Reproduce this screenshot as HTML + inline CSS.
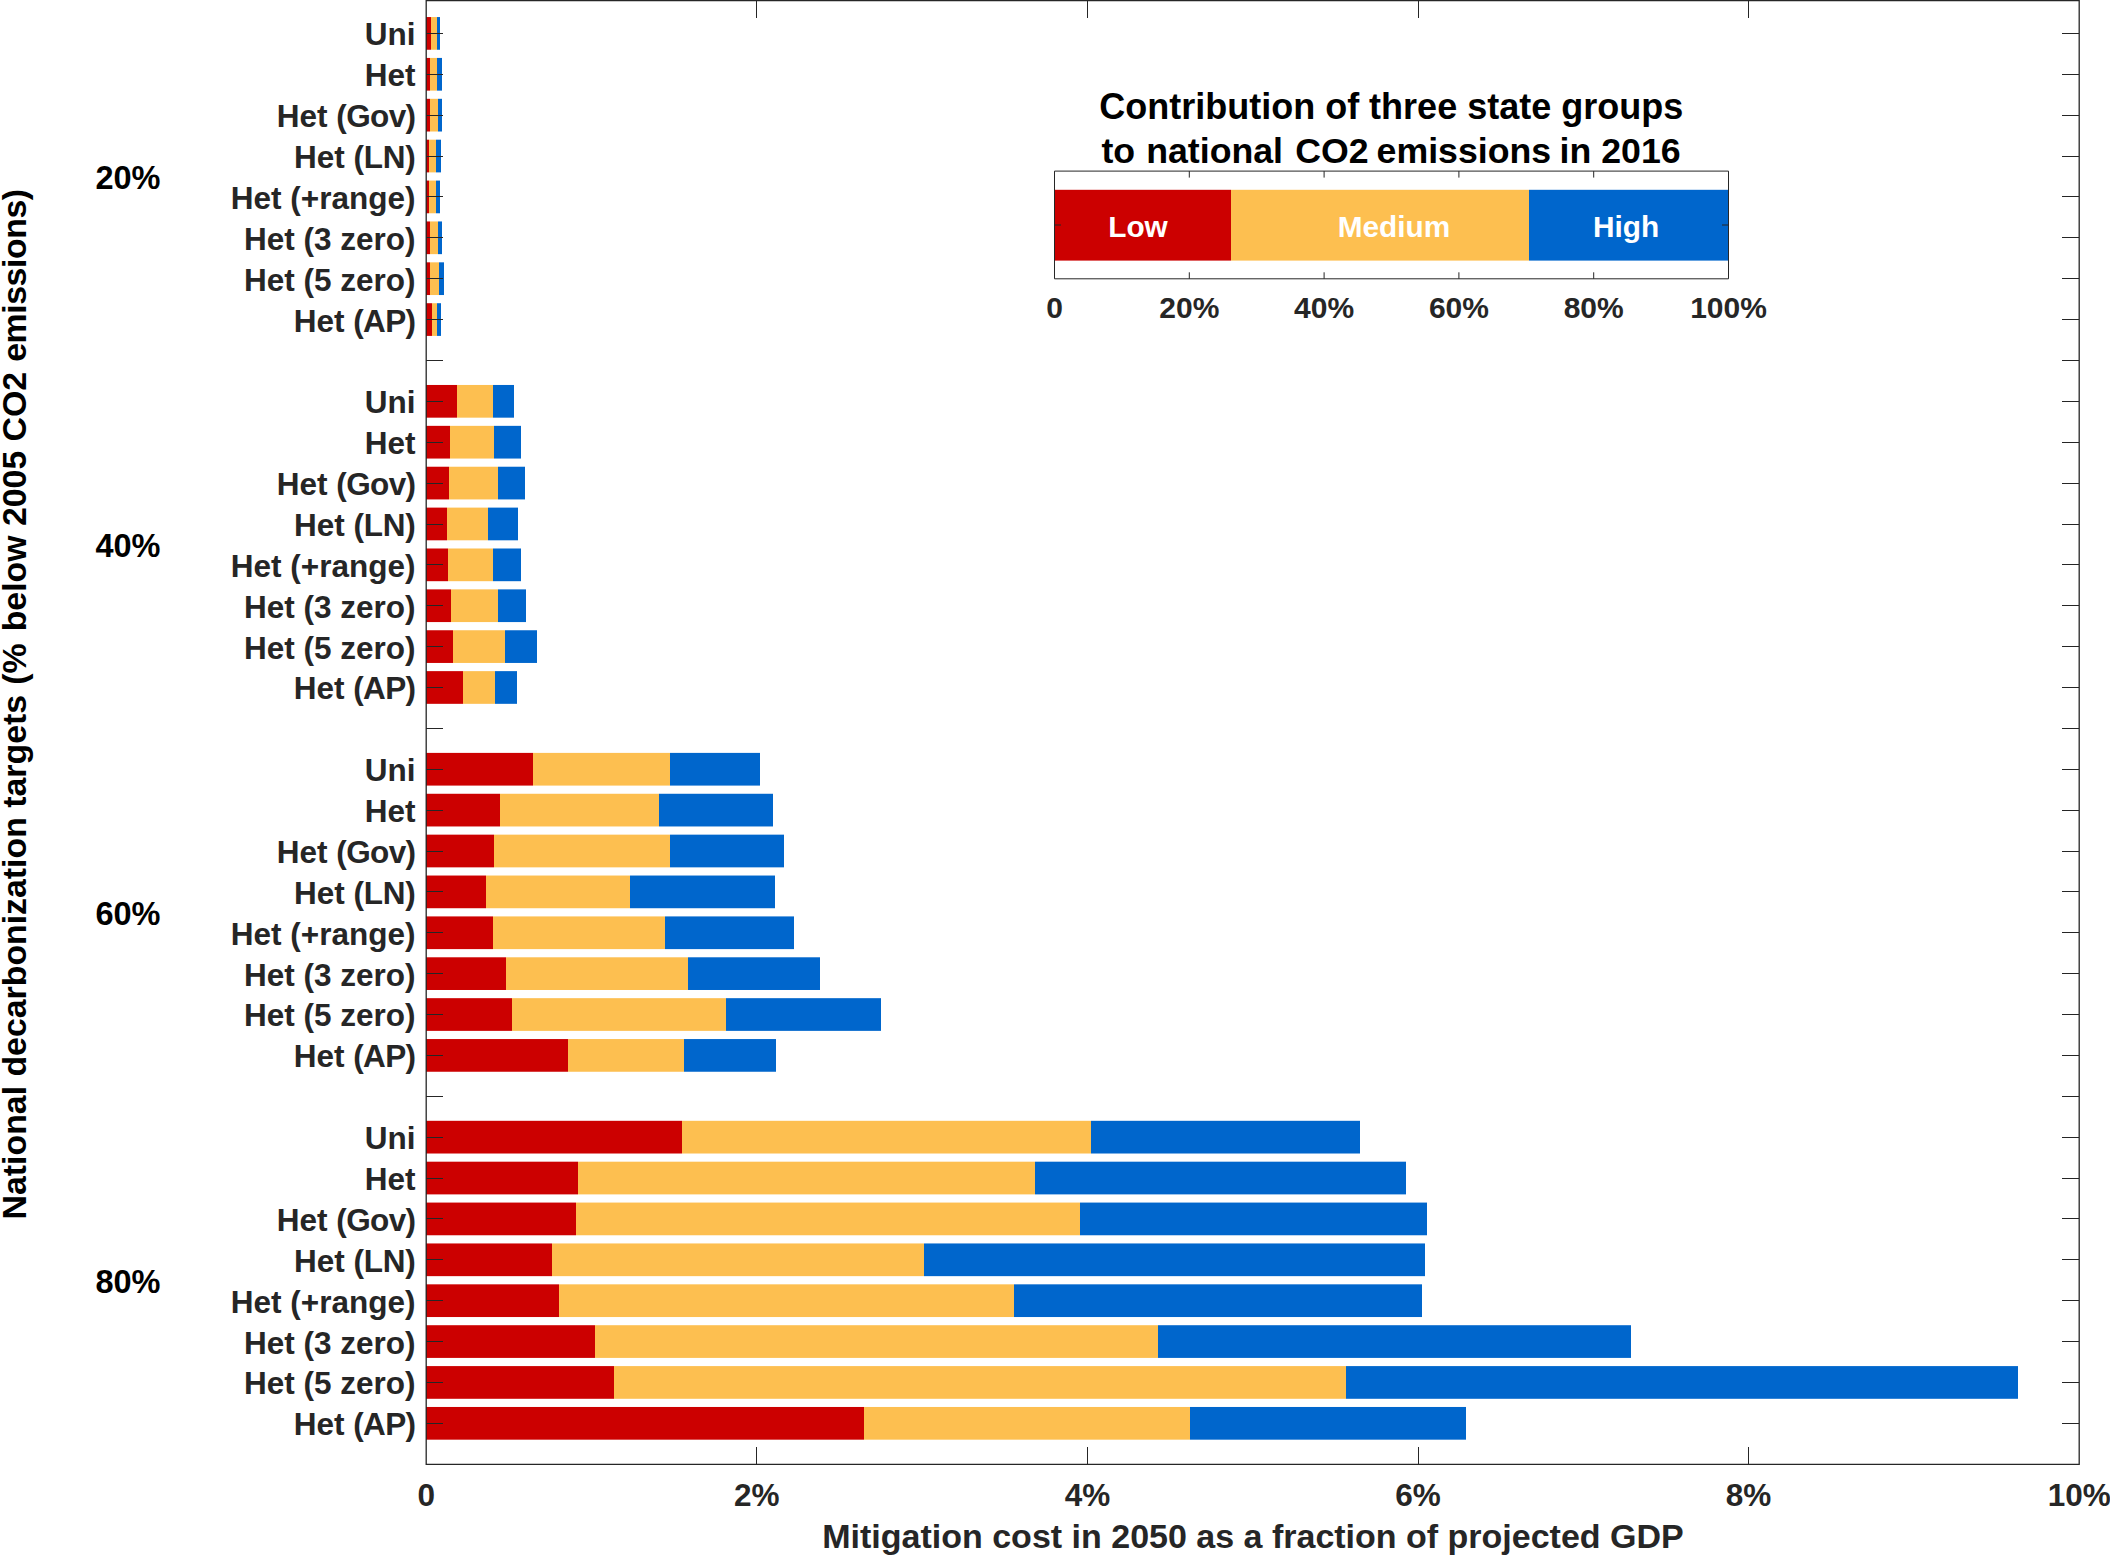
<!DOCTYPE html>
<html lang="en"><head><meta charset="utf-8"><title>Mitigation cost chart</title>
<style>html,body{margin:0;padding:0;background:#fff}svg{display:block}text{font-family:'Liberation Sans', Arial, Helvetica, sans-serif;font-weight:bold}</style></head><body>
<svg width="2110" height="1555" viewBox="0 0 2110 1555">
<rect width="2110" height="1555" fill="#fff"/>
<g>
<rect x="426" y="17.05" width="5" height="32.7" fill="#cc0000"/>
<rect x="431" y="17.05" width="6" height="32.7" fill="#fdbf50"/>
<rect x="437" y="17.05" width="3" height="32.7" fill="#0066cc"/>
<rect x="426" y="57.93" width="4" height="32.7" fill="#cc0000"/>
<rect x="430" y="57.93" width="7" height="32.7" fill="#fdbf50"/>
<rect x="437" y="57.93" width="5" height="32.7" fill="#0066cc"/>
<rect x="426" y="98.81" width="4" height="32.7" fill="#cc0000"/>
<rect x="430" y="98.81" width="8" height="32.7" fill="#fdbf50"/>
<rect x="438" y="98.81" width="4" height="32.7" fill="#0066cc"/>
<rect x="426" y="139.69" width="3" height="32.7" fill="#cc0000"/>
<rect x="429" y="139.69" width="7" height="32.7" fill="#fdbf50"/>
<rect x="436" y="139.69" width="5" height="32.7" fill="#0066cc"/>
<rect x="426" y="180.57" width="3" height="32.7" fill="#cc0000"/>
<rect x="429" y="180.57" width="7" height="32.7" fill="#fdbf50"/>
<rect x="436" y="180.57" width="4" height="32.7" fill="#0066cc"/>
<rect x="426" y="221.45" width="4" height="32.7" fill="#cc0000"/>
<rect x="430" y="221.45" width="8" height="32.7" fill="#fdbf50"/>
<rect x="438" y="221.45" width="4" height="32.7" fill="#0066cc"/>
<rect x="426" y="262.33" width="4" height="32.7" fill="#cc0000"/>
<rect x="430" y="262.33" width="9" height="32.7" fill="#fdbf50"/>
<rect x="439" y="262.33" width="5" height="32.7" fill="#0066cc"/>
<rect x="426" y="303.21" width="6" height="32.7" fill="#cc0000"/>
<rect x="432" y="303.21" width="5" height="32.7" fill="#fdbf50"/>
<rect x="437" y="303.21" width="4" height="32.7" fill="#0066cc"/>
<rect x="426" y="384.97" width="31" height="32.7" fill="#cc0000"/>
<rect x="457" y="384.97" width="36" height="32.7" fill="#fdbf50"/>
<rect x="493" y="384.97" width="21" height="32.7" fill="#0066cc"/>
<rect x="426" y="425.85" width="24" height="32.7" fill="#cc0000"/>
<rect x="450" y="425.85" width="44" height="32.7" fill="#fdbf50"/>
<rect x="494" y="425.85" width="27" height="32.7" fill="#0066cc"/>
<rect x="426" y="466.73" width="23" height="32.7" fill="#cc0000"/>
<rect x="449" y="466.73" width="49" height="32.7" fill="#fdbf50"/>
<rect x="498" y="466.73" width="27" height="32.7" fill="#0066cc"/>
<rect x="426" y="507.61" width="21" height="32.7" fill="#cc0000"/>
<rect x="447" y="507.61" width="41" height="32.7" fill="#fdbf50"/>
<rect x="488" y="507.61" width="30" height="32.7" fill="#0066cc"/>
<rect x="426" y="548.49" width="22" height="32.7" fill="#cc0000"/>
<rect x="448" y="548.49" width="45" height="32.7" fill="#fdbf50"/>
<rect x="493" y="548.49" width="28" height="32.7" fill="#0066cc"/>
<rect x="426" y="589.37" width="25" height="32.7" fill="#cc0000"/>
<rect x="451" y="589.37" width="47" height="32.7" fill="#fdbf50"/>
<rect x="498" y="589.37" width="28" height="32.7" fill="#0066cc"/>
<rect x="426" y="630.25" width="27" height="32.7" fill="#cc0000"/>
<rect x="453" y="630.25" width="52" height="32.7" fill="#fdbf50"/>
<rect x="505" y="630.25" width="32" height="32.7" fill="#0066cc"/>
<rect x="426" y="671.13" width="37" height="32.7" fill="#cc0000"/>
<rect x="463" y="671.13" width="32" height="32.7" fill="#fdbf50"/>
<rect x="495" y="671.13" width="22" height="32.7" fill="#0066cc"/>
<rect x="426" y="752.89" width="107" height="32.7" fill="#cc0000"/>
<rect x="533" y="752.89" width="137" height="32.7" fill="#fdbf50"/>
<rect x="670" y="752.89" width="90" height="32.7" fill="#0066cc"/>
<rect x="426" y="793.77" width="74" height="32.7" fill="#cc0000"/>
<rect x="500" y="793.77" width="159" height="32.7" fill="#fdbf50"/>
<rect x="659" y="793.77" width="114" height="32.7" fill="#0066cc"/>
<rect x="426" y="834.65" width="68" height="32.7" fill="#cc0000"/>
<rect x="494" y="834.65" width="176" height="32.7" fill="#fdbf50"/>
<rect x="670" y="834.65" width="114" height="32.7" fill="#0066cc"/>
<rect x="426" y="875.53" width="60" height="32.7" fill="#cc0000"/>
<rect x="486" y="875.53" width="144" height="32.7" fill="#fdbf50"/>
<rect x="630" y="875.53" width="145" height="32.7" fill="#0066cc"/>
<rect x="426" y="916.41" width="67" height="32.7" fill="#cc0000"/>
<rect x="493" y="916.41" width="172" height="32.7" fill="#fdbf50"/>
<rect x="665" y="916.41" width="129" height="32.7" fill="#0066cc"/>
<rect x="426" y="957.29" width="80" height="32.7" fill="#cc0000"/>
<rect x="506" y="957.29" width="182" height="32.7" fill="#fdbf50"/>
<rect x="688" y="957.29" width="132" height="32.7" fill="#0066cc"/>
<rect x="426" y="998.17" width="86" height="32.7" fill="#cc0000"/>
<rect x="512" y="998.17" width="214" height="32.7" fill="#fdbf50"/>
<rect x="726" y="998.17" width="155" height="32.7" fill="#0066cc"/>
<rect x="426" y="1039.05" width="142" height="32.7" fill="#cc0000"/>
<rect x="568" y="1039.05" width="116" height="32.7" fill="#fdbf50"/>
<rect x="684" y="1039.05" width="92" height="32.7" fill="#0066cc"/>
<rect x="426" y="1120.81" width="256" height="32.7" fill="#cc0000"/>
<rect x="682" y="1120.81" width="409" height="32.7" fill="#fdbf50"/>
<rect x="1091" y="1120.81" width="269" height="32.7" fill="#0066cc"/>
<rect x="426" y="1161.69" width="152" height="32.7" fill="#cc0000"/>
<rect x="578" y="1161.69" width="457" height="32.7" fill="#fdbf50"/>
<rect x="1035" y="1161.69" width="371" height="32.7" fill="#0066cc"/>
<rect x="426" y="1202.57" width="150" height="32.7" fill="#cc0000"/>
<rect x="576" y="1202.57" width="504" height="32.7" fill="#fdbf50"/>
<rect x="1080" y="1202.57" width="347" height="32.7" fill="#0066cc"/>
<rect x="426" y="1243.45" width="126" height="32.7" fill="#cc0000"/>
<rect x="552" y="1243.45" width="372" height="32.7" fill="#fdbf50"/>
<rect x="924" y="1243.45" width="501" height="32.7" fill="#0066cc"/>
<rect x="426" y="1284.33" width="133" height="32.7" fill="#cc0000"/>
<rect x="559" y="1284.33" width="455" height="32.7" fill="#fdbf50"/>
<rect x="1014" y="1284.33" width="408" height="32.7" fill="#0066cc"/>
<rect x="426" y="1325.21" width="169" height="32.7" fill="#cc0000"/>
<rect x="595" y="1325.21" width="563" height="32.7" fill="#fdbf50"/>
<rect x="1158" y="1325.21" width="473" height="32.7" fill="#0066cc"/>
<rect x="426" y="1366.09" width="188" height="32.7" fill="#cc0000"/>
<rect x="614" y="1366.09" width="732" height="32.7" fill="#fdbf50"/>
<rect x="1346" y="1366.09" width="672" height="32.7" fill="#0066cc"/>
<rect x="426" y="1406.97" width="438" height="32.7" fill="#cc0000"/>
<rect x="864" y="1406.97" width="326" height="32.7" fill="#fdbf50"/>
<rect x="1190" y="1406.97" width="276" height="32.7" fill="#0066cc"/>
</g>
<g stroke="#262626" stroke-width="1.3" fill="none">
<path d="M426.2 0.6H2079.2V1464.4H426.2Z"/>
</g>
<g stroke="#262626" stroke-width="1" fill="none" shape-rendering="crispEdges">
<path d="M426.2 33.4h17M2079.2 33.4h-17M426.2 74.3h17M2079.2 74.3h-17M426.2 115.2h17M2079.2 115.2h-17M426.2 156.0h17M2079.2 156.0h-17M426.2 196.9h17M2079.2 196.9h-17M426.2 237.8h17M2079.2 237.8h-17M426.2 278.7h17M2079.2 278.7h-17M426.2 319.6h17M2079.2 319.6h-17M426.2 360.4h17M2079.2 360.4h-17M426.2 401.3h17M2079.2 401.3h-17M426.2 442.2h17M2079.2 442.2h-17M426.2 483.1h17M2079.2 483.1h-17M426.2 524.0h17M2079.2 524.0h-17M426.2 564.8h17M2079.2 564.8h-17M426.2 605.7h17M2079.2 605.7h-17M426.2 646.6h17M2079.2 646.6h-17M426.2 687.5h17M2079.2 687.5h-17M426.2 728.4h17M2079.2 728.4h-17M426.2 769.2h17M2079.2 769.2h-17M426.2 810.1h17M2079.2 810.1h-17M426.2 851.0h17M2079.2 851.0h-17M426.2 891.9h17M2079.2 891.9h-17M426.2 932.8h17M2079.2 932.8h-17M426.2 973.6h17M2079.2 973.6h-17M426.2 1014.5h17M2079.2 1014.5h-17M426.2 1055.4h17M2079.2 1055.4h-17M426.2 1096.3h17M2079.2 1096.3h-17M426.2 1137.2h17M2079.2 1137.2h-17M426.2 1178.0h17M2079.2 1178.0h-17M426.2 1218.9h17M2079.2 1218.9h-17M426.2 1259.8h17M2079.2 1259.8h-17M426.2 1300.7h17M2079.2 1300.7h-17M426.2 1341.6h17M2079.2 1341.6h-17M426.2 1382.4h17M2079.2 1382.4h-17M426.2 1423.3h17M2079.2 1423.3h-17M756.8 1464.4v-17M756.8 0.6v17M1087.4 1464.4v-17M1087.4 0.6v17M1418.0 1464.4v-17M1418.0 0.6v17M1748.6 1464.4v-17M1748.6 0.6v17"/>
</g>
<g font-size="31.5" fill="#262626" text-anchor="end">
<text x="415.5" y="45.3">Uni</text>
<text x="415.5" y="86.2">Het</text>
<text x="415.5" y="127.1">Het <tspan letter-spacing="-0.6">(Gov)</tspan></text>
<text x="415.5" y="167.9">Het <tspan letter-spacing="-0.25">(LN)</tspan></text>
<text x="415.5" y="208.8">Het (+range)</text>
<text x="415.5" y="249.7">Het (3 zero)</text>
<text x="415.5" y="290.6">Het (5 zero)</text>
<text x="415.5" y="331.5">Het <tspan letter-spacing="-0.6">(AP)</tspan></text>
<text x="415.5" y="413.2">Uni</text>
<text x="415.5" y="454.1">Het</text>
<text x="415.5" y="495.0">Het <tspan letter-spacing="-0.6">(Gov)</tspan></text>
<text x="415.5" y="535.9">Het <tspan letter-spacing="-0.25">(LN)</tspan></text>
<text x="415.5" y="576.7">Het (+range)</text>
<text x="415.5" y="617.6">Het (3 zero)</text>
<text x="415.5" y="658.5">Het (5 zero)</text>
<text x="415.5" y="699.4">Het <tspan letter-spacing="-0.6">(AP)</tspan></text>
<text x="415.5" y="781.1">Uni</text>
<text x="415.5" y="822.0">Het</text>
<text x="415.5" y="862.9">Het <tspan letter-spacing="-0.6">(Gov)</tspan></text>
<text x="415.5" y="903.8">Het <tspan letter-spacing="-0.25">(LN)</tspan></text>
<text x="415.5" y="944.7">Het (+range)</text>
<text x="415.5" y="985.5">Het (3 zero)</text>
<text x="415.5" y="1026.4">Het (5 zero)</text>
<text x="415.5" y="1067.3">Het <tspan letter-spacing="-0.6">(AP)</tspan></text>
<text x="415.5" y="1149.1">Uni</text>
<text x="415.5" y="1189.9">Het</text>
<text x="415.5" y="1230.8">Het <tspan letter-spacing="-0.6">(Gov)</tspan></text>
<text x="415.5" y="1271.7">Het <tspan letter-spacing="-0.25">(LN)</tspan></text>
<text x="415.5" y="1312.6">Het (+range)</text>
<text x="415.5" y="1353.5">Het (3 zero)</text>
<text x="415.5" y="1394.3">Het (5 zero)</text>
<text x="415.5" y="1435.2">Het <tspan letter-spacing="-0.6">(AP)</tspan></text>
</g>
<g font-size="32.5" fill="#000" text-anchor="middle">
<text x="128" y="189.1">20%</text>
<text x="128" y="557.0">40%</text>
<text x="128" y="924.9">60%</text>
<text x="128" y="1292.8">80%</text>
</g>
<g font-size="31.5" fill="#262626" text-anchor="middle">
<text x="426.2" y="1506">0</text>
<text x="756.8" y="1506">2%</text>
<text x="1087.4" y="1506">4%</text>
<text x="1418.0" y="1506">6%</text>
<text x="1748.6" y="1506">8%</text>
<text x="2079.2" y="1506">10%</text>
</g>
<text x="1253" y="1547.7" font-size="34" fill="#262626" text-anchor="middle">Mitigation cost in 2050 as a fraction of projected GDP</text>
<text transform="translate(25.8 1219.4) rotate(-90)" font-size="33.85" fill="#000">National decarbonization targets <tspan dx="0.9">(%</tspan> <tspan dx="2.6">below</tspan> 2005 CO2 <tspan dx="0.6" letter-spacing="-0.42">emissions)</tspan></text>
<g>
<rect x="1054" y="189.8" width="177" height="70.8" fill="#cc0000"/>
<rect x="1231" y="189.8" width="298" height="70.8" fill="#fdbf50"/>
<rect x="1529" y="189.8" width="199" height="70.8" fill="#0066cc"/>
</g>
<g stroke="#262626" stroke-width="1" fill="none">
<path d="M1054.5 171.1H1728.5V278.8H1054.5Z"/>
<path d="M1189.3 171.1v6.5M1189.3 278.8v-6.5M1324.1 171.1v6.5M1324.1 278.8v-6.5M1458.9 171.1v6.5M1458.9 278.8v-6.5M1593.7 171.1v6.5M1593.7 278.8v-6.5M1054.5 225h6.5M1728.5 225h-6.5"/>
</g>
<g font-size="30" fill="#262626" text-anchor="middle">
<text x="1054.5" y="318">0</text>
<text x="1189.3" y="318">20%</text>
<text x="1324.1" y="318">40%</text>
<text x="1458.9" y="318">60%</text>
<text x="1593.7" y="318">80%</text>
<text x="1728.5" y="318">100%</text>
</g>
<g font-size="29.8" fill="#fff" text-anchor="middle">
<text x="1138" y="236.6">Low</text><text x="1394" y="236.6">Medium</text><text x="1626" y="236.6">High</text>
</g>
<g font-size="36" fill="#000" text-anchor="middle">
<text x="1391.2" y="118.9">Contribution of three state groups</text>
<text x="1391" y="162.7" font-size="35.7">to <tspan dx="1.2">national</tspan> <tspan dx="2.3">CO2</tspan> <tspan dx="-2">emissions</tspan> <tspan dx="-1.5">in</tspan> 2016</text>
</g>
</svg></body></html>
